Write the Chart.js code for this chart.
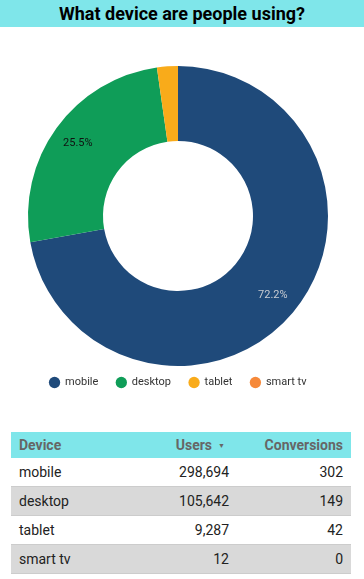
<!DOCTYPE html>
<html><head><meta charset="utf-8">
<script src="https://cdn.jsdelivr.net/npm/chart.js@4/dist/chart.umd.min.js"></script>
<style>
html,body{margin:0;padding:0;background:#fff;width:364px;height:579px;overflow:hidden;font-family:Roboto,sans-serif;}
#title{position:absolute;left:0;top:0;width:364px;height:27px;background:#7fe6ea;color:#000;font-weight:bold;font-size:18px;line-height:27px;text-align:center;}
#wrap{position:absolute;left:0;top:27px;width:364px;height:378px;}
table{position:absolute;left:11px;top:432px;width:340px;border-collapse:collapse;font-size:14px;color:#222;table-layout:fixed;}
th{background:#7fe6ea;color:#666;font-weight:bold;font-size:14px;height:26px;padding:0 8px;}
td{height:28px;padding:0 8px;border-bottom:1px solid #ccc;}
tr.alt td{background:#d9d9d9;}
.arrow{font-size:7px;color:#666;margin-left:6px;margin-right:4px;position:relative;top:-2px;}
</style></head><body>
<div id="title">What device are people using?</div>
<div id="wrap"><canvas id="c"></canvas></div>
<table id="t"><colgroup><col style="width:110px"><col style="width:116px"><col style="width:114px"></colgroup><tbody id="tb"></tbody></table>
<script>
const categories = ["mobile","desktop","tablet","smart tv"];
const users = [298694,105642,9287,12];
const conversions = [302,149,42,0];
const colors = ["#1f4a7a","#0f9d58","#f9ab1a","#f6893a"];
const headers = ["Device","Users","Conversions"];

const total = users.reduce((a,b)=>a+b,0);
const labelPlugin = {
  id:'pct',
  afterLayout(chart){
    chart.legend.top -= 7; chart.legend.bottom -= 7;
  },
  afterDatasetsDraw(chart){
    const ctx = chart.ctx;
    const meta = chart.getDatasetMeta(0);
    meta.data.forEach((arc,i)=>{
      const p = users[i]/total*100;
      if(p<5) return;
      const mid = (arc.startAngle+arc.endAngle)/2;
      const r = arc.innerRadius + (arc.outerRadius-arc.innerRadius)*0.65;
      const x = arc.x + Math.cos(mid)*r, y = arc.y + Math.sin(mid)*r;
      ctx.save();
      ctx.font = '11px Roboto';
      ctx.fillStyle = i===0 ? '#c8ccd2' : '#111';
      ctx.textAlign='center'; ctx.textBaseline='middle';
      ctx.fillText(p.toFixed(1)+'%', x, y);
      ctx.restore();
    });
  }
};
new Chart(document.getElementById('c'),{
  type:'doughnut',
  data:{labels:categories,datasets:[{data:users,backgroundColor:colors,borderWidth:0,hoverOffset:0}]},
  options:{
    responsive:true,maintainAspectRatio:false,animation:false,cutout:'50%',
    layout:{padding:{top:39,bottom:0,left:0,right:8}},
    plugins:{
      tooltip:{enabled:false},
      legend:{position:'bottom',labels:{usePointStyle:true,pointStyle:'circle',boxWidth:10,boxHeight:8,padding:18,color:'#333',font:{family:'Roboto',size:11}}}
    }
  },
  plugins:[labelPlugin]
});
let h = '<tr><th style="text-align:left">'+headers[0]+'</th><th style="text-align:right">'+headers[1]+'<span class="arrow">&#9660;</span></th><th style="text-align:right">'+headers[2]+'</th></tr>';
categories.forEach((c,i)=>{
  h += '<tr class="'+(i%2?'alt':'')+'"><td style="text-align:left">'+c+'</td><td style="text-align:right">'+users[i].toLocaleString('en-US')+'</td><td style="text-align:right">'+conversions[i]+'</td></tr>';
});
document.getElementById('tb').innerHTML = h;
</script>
</body></html>
